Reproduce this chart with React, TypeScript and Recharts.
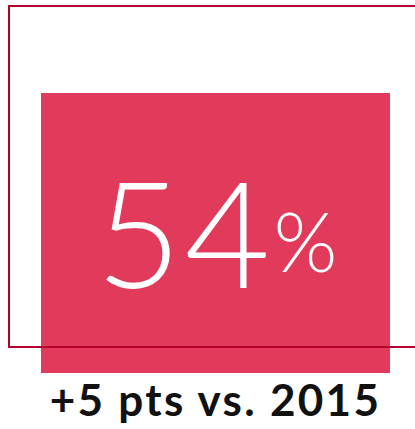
import { BarChart, Bar, XAxis, YAxis, LabelList } from 'recharts';

// Single KPI tile: share this year vs. change since 2015
const categories = ['+5 pts vs. 2015'];
const shareValues = [54];

const data = categories.map((name, i) => ({ name, share: shareValues[i] }));

const BAR_COLOR = '#E23A5A';
const FRAME_COLOR = '#B3002C';

function PercentLabel(props: any) {
    const { x, y, width, height, value } = props;
    const cx = x + width / 2 + 1;
    const cy = y + height / 2;
    return (
        <text
            x={cx}
            y={cy + 55}
            textAnchor="middle"
            fill="#ffffff"
            fontFamily="Lato, 'Noto Sans', sans-serif"
            fontWeight={300}
        >
            <tspan fontSize={148} letterSpacing={3}>{value}</tspan>
            <tspan fontSize={82} dy={-16}>%</tspan>
        </text>
    );
}

export default function App() {
    return (
        <div style={{ position: 'absolute', left: 0, top: 0, width: 415, height: 429, background: '#fff' }}>
            <BarChart
                width={415}
                height={429}
                data={data}
                margin={{ top: 62, right: 25, left: 41, bottom: 6 }}
                barCategoryGap={0}
            >
                <YAxis hide domain={[0, 60]} />
                <XAxis
                    dataKey="name"
                    axisLine={false}
                    tickLine={false}
                    tickSize={0}
                    tickMargin={12}
                    height={50}
                    interval={0}
                    tick={{ fill: '#111111', fontSize: 44, fontWeight: 700, fontFamily: "Lato, 'Noto Sans', sans-serif", letterSpacing: 2.3 }}
                />
                <Bar dataKey="share" fill={BAR_COLOR} isAnimationActive={false}>
                    <LabelList dataKey="share" content={<PercentLabel />} />
                </Bar>
            </BarChart>
            {/* decorative frame, drawn over the bar */}
            <div
                style={{
                    position: 'absolute',
                    left: 8,
                    top: 5,
                    width: 420,
                    height: 339,
                    border: `2px solid ${FRAME_COLOR}`,
                    pointerEvents: 'none',
                }}
            />
        </div>
    );
}
